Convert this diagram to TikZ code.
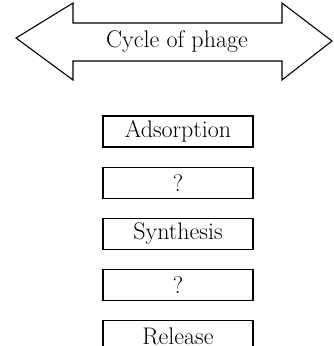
\documentclass[tikz,border=0pt]{standalone}
\usepackage{tikz}
\usetikzlibrary{positioning}

\tikzset{
  stage/.style={draw=black,line width=1.1pt,minimum width=150pt,minimum height=31pt,
    inner sep=0pt,font=\fontsize{24}{27}\selectfont},
  bigarrow/.style={draw=black,line width=1.1pt,line join=miter}
}

\begin{document}
\begin{tikzpicture}[x=1pt,y=-1pt]
  \useasboundingbox (0,0) rectangle (333,346);
  \clip (0,0) rectangle (333,346);
  % \draw[help lines,step=10] (0,0) grid (333,346);

  % the double arrow across the top
  \draw[bigarrow] (16,38) -- (73,3) -- (73,23) -- (282,23) -- (282,3)
    -- (332,41) -- (282,80) -- (282,61) -- (73,61) -- (73,80) -- cycle;
  \node[font=\fontsize{24}{27}\selectfont] (cycle) at (177,42) {Cycle of phage};

  % the stages, one under the other
  \begin{scope}[node distance=19pt]
    \node[stage] (adsorb) at (178,131.5) {Adsorption};
    \node[stage,below=of adsorb] (stepA) {?};
    \node[stage,below=of stepA] (synth) {Synthesis};
    \node[stage,below=of synth] (stepB) {?};
    \node[stage,below=of stepB] (release) {Release};
  \end{scope}
\end{tikzpicture}
\end{document}
